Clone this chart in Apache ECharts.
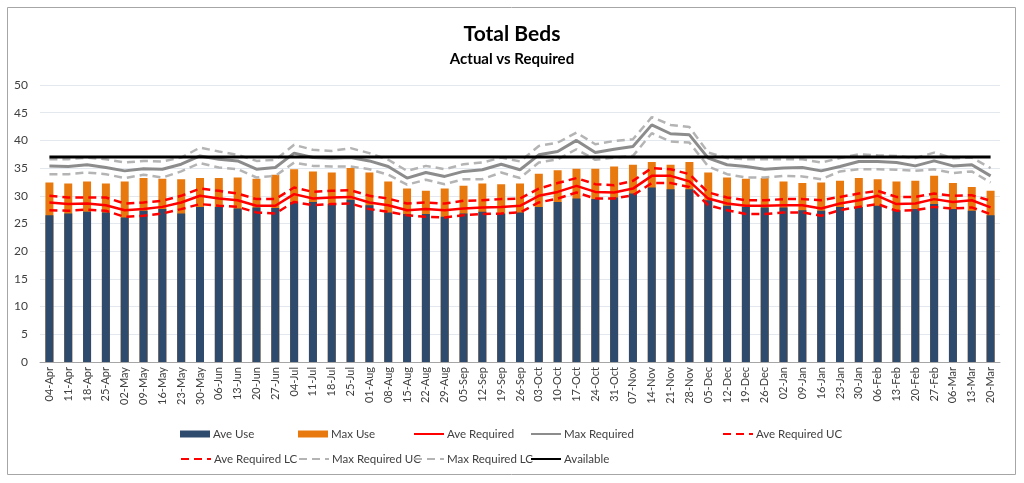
<!DOCTYPE html>
<html>
<head>
<meta charset="utf-8">
<script src="https://cdn.jsdelivr.net/npm/echarts@6/dist/echarts.min.js"></script>
<style>
html,body{margin:0;padding:0;background:#fff;}
#c{width:1024px;height:483px;}
</style>
</head>
<body>
<div id="c"></div>
<script>
var categories = ['04-Apr','11-Apr','18-Apr','25-Apr','02-May','09-May','16-May','23-May','30-May','06-Jun','13-Jun','20-Jun','27-Jun','04-Jul','11-Jul','18-Jul','25-Jul','01-Aug','08-Aug','15-Aug','22-Aug','29-Aug','05-Sep','12-Sep','19-Sep','26-Sep','03-Oct','10-Oct','17-Oct','24-Oct','31-Oct','07-Nov','14-Nov','21-Nov','28-Nov','05-Dec','12-Dec','19-Dec','26-Dec','02-Jan','09-Jan','16-Jan','23-Jan','30-Jan','06-Feb','13-Feb','20-Feb','27-Feb','06-Mar','13-Mar','20-Mar'];

var aveUse = [26.5,26.8,27.1,27.0,26.1,27.3,27.6,26.8,28.0,28.0,27.7,27.9,27.8,28.9,28.9,28.5,29.3,
  28.3,27.0,26.7,26.7,26.2,26.8,27.1,26.8,27.0,28.0,28.9,29.5,29.4,29.7,30.4,31.5,31.2,31.2,
  29.2,28.2,28.0,27.9,27.9,27.4,27.3,28.0,28.0,28.2,27.4,27.6,28.5,27.6,27.3,26.5];

var maxUse = [32.4,32.2,32.6,32.2,32.6,33.2,33.1,33.0,33.2,33.2,33.3,33.1,33.8,34.8,34.4,34.2,35.0,
  34.2,32.6,31.3,30.9,31.3,31.8,32.2,32.1,32.2,34.0,34.6,34.9,34.9,35.3,35.6,36.1,35.6,36.1,
  34.2,33.3,33.1,33.2,32.6,32.3,32.4,32.7,33.2,33.0,32.6,32.7,33.6,32.3,31.6,30.9];

var aveRequired = [28.8,28.5,28.6,28.3,27.4,27.6,28.0,28.8,30.0,29.5,29.2,28.2,28.2,30.3,29.5,29.7,29.8,
  28.8,28.3,27.4,27.6,27.4,27.7,27.9,28.0,28.2,30.0,30.7,31.8,30.7,30.6,31.3,33.6,33.6,32.6,
  29.5,28.6,28.2,28.2,28.3,28.3,27.7,28.6,29.2,30.0,28.5,28.6,29.4,28.9,29.2,27.9];

var aveRequiredUC = [30.0,29.7,29.7,29.7,28.6,28.8,29.1,30.0,31.3,30.9,30.4,29.4,29.4,31.5,30.7,30.9,31.0,
  30.0,29.5,28.6,28.8,28.6,29.1,29.2,29.4,29.5,31.3,32.3,33.2,32.1,31.9,32.7,35.0,34.8,33.9,
  30.6,29.7,29.2,29.2,29.4,29.4,29.2,29.8,30.4,30.9,29.8,29.8,30.4,30.0,30.1,29.1];

var aveRequiredLC = [27.4,27.3,27.5,27.3,26.2,26.4,26.8,27.6,28.5,28.2,28.0,27.0,26.8,28.9,28.3,28.5,28.6,
  27.6,27.1,26.5,26.2,26.1,26.5,26.7,26.8,27.0,28.8,29.5,30.6,29.5,29.5,30.1,32.3,32.3,31.6,
  28.3,27.4,26.7,26.7,27.0,27.0,26.4,27.4,28.0,28.5,27.3,27.4,28.0,27.7,27.9,26.7];

var maxRequired = [35.4,35.3,35.6,35.1,34.5,34.9,34.8,35.7,37.2,36.6,36.3,34.8,35.1,37.7,36.9,36.8,36.9,
  36.3,35.3,33.2,34.2,33.5,34.4,34.7,35.7,34.7,37.4,38.0,40.0,37.8,38.4,38.9,42.8,41.2,41.0,
  36.8,35.6,35.3,34.8,35.0,35.1,34.5,35.3,36.2,36.2,36.0,35.4,36.3,35.4,35.6,33.6];

var maxRequiredUC = [36.6,36.6,36.9,36.6,36.0,36.3,36.2,36.9,38.7,38.0,37.4,36.3,36.5,39.2,38.3,38.1,38.6,
  37.7,36.5,34.5,35.4,34.8,35.7,36.0,36.9,36.2,39.0,39.6,41.4,39.3,39.9,40.2,44.2,42.8,42.4,
  37.8,36.8,36.6,36.6,36.6,36.6,36.0,36.8,37.5,37.3,37.2,36.8,37.8,36.8,36.9,35.0];

var maxRequiredLC = [33.9,33.9,34.2,33.9,33.2,33.8,33.3,34.4,35.9,35.1,34.8,33.3,33.6,36.0,35.4,35.3,35.3,
  34.8,33.8,32.0,32.9,32.1,33.0,33.0,34.2,33.2,36.0,36.6,38.4,36.5,36.9,37.2,41.3,39.8,39.6,
  35.3,33.9,33.3,33.3,33.6,33.5,33.0,34.4,34.8,34.8,34.7,34.5,34.8,34.1,34.4,32.4];

var available = [37,37,37,37,37,37,37,37,37,37,37,37,37,37,37,37,37,
  37,37,37,37,37,37,37,37,37,37,37,37,37,37,37,37,37,37,
  37,37,37,37,37,37,37,37,37,37,37,37,37,37,37,37];

var yTicks = {min: 0, max: 50, interval: 5};

var FONT = 'Lato, "Open Sans", sans-serif';
var chart = echarts.init(document.getElementById('c'), null, {renderer: 'canvas'});

function leg(name, left, top, isBar) {
  var item = isBar ? {name: name, icon: 'rect'} :
    {name: name, itemStyle: {color: 'rgba(0,0,0,0)', borderColor: 'rgba(0,0,0,0)', borderWidth: 0, opacity: 0}};
  return {
    left: left, top: top, orient: 'horizontal',
    itemWidth: 30, itemHeight: isBar ? 7 : 14, itemGap: 0,
    data: [item],
    textStyle: {fontFamily: FONT, fontSize: 11.5, color: '#404040', padding: [0,0,0,-2]},
    selectedMode: false
  };
}

function lineS(name, data, color, width, dashed) {
  return {
    name: name, type: 'line', data: data, symbol: 'none', z: 3,
    lineStyle: {color: color, width: width, type: dashed ? [8,5] : 'solid'},
    itemStyle: {color: color},
    emphasis: {disabled: true}, animation: false
  };
}

var option = {
  animation: false,
  backgroundColor: '#ffffff',
  title: [
    {text: 'Total Beds', left: 'center', top: 19,
     textStyle: {fontFamily: FONT, fontSize: 21, fontWeight: 'bold', color: '#000'}},
    {text: 'Actual vs Required', left: 'center', top: 47,
     textStyle: {fontFamily: FONT, fontSize: 15, fontWeight: 'bold', color: '#000'}}
  ],
  graphic: [{
    type: 'rect', shape: {x: 7.5, y: 7.5, width: 1008, height: 467},
    style: {fill: 'none', stroke: '#a6a6a6', lineWidth: 1}, silent: true, z: -1
  }],
  legend: [
    leg('Ave Use', 175, 423, true),
    leg('Max Use', 293, 423, true),
    leg('Ave Required', 408, 423, false),
    leg('Max Required', 525, 423, false),
    leg('Ave Required UC', 717, 423, false),
    leg('Ave Required LC', 175, 448, false),
    leg('Max Required UC', 293, 448, false),
    leg('Max Required LC', 408, 448, false),
    leg('Available', 525, 448, false)
  ],
  grid: {left: 40, right: 24, top: 85, bottom: 121, containLabel: false},
  xAxis: {
    type: 'category', data: categories, boundaryGap: true,
    axisLine: {lineStyle: {color: '#a6a6a6', width: 1}},
    axisTick: {show: false},
    axisLabel: {rotate: 90, interval: 0, fontFamily: FONT, fontSize: 11, color: '#404040', margin: 5}
  },
  yAxis: {
    type: 'value', min: yTicks.min, max: yTicks.max, interval: yTicks.interval,
    axisLine: {show: false}, axisTick: {show: false},
    axisLabel: {fontFamily: FONT, fontSize: 12, color: '#404040', margin: 12},
    splitLine: {lineStyle: {color: '#e3e8ef', width: 1}}
  },
  series: [
    {name: 'Max Use', type: 'bar', data: maxUse, barWidth: 8, barGap: '-100%', z: 1,
     itemStyle: {color: '#e8790f'}, emphasis: {disabled: true}},
    {name: 'Ave Use', type: 'bar', data: aveUse, barWidth: 8, barGap: '-100%', z: 2,
     itemStyle: {color: '#2e4b6e'}, emphasis: {disabled: true}},
    lineS('Max Required UC', maxRequiredUC, '#b4b4b4', 2.5, true),
    lineS('Max Required LC', maxRequiredLC, '#b4b4b4', 2.5, true),
    lineS('Max Required', maxRequired, '#8c8c8c', 3, false),
    lineS('Ave Required UC', aveRequiredUC, '#ff0000', 2.5, true),
    lineS('Ave Required LC', aveRequiredLC, '#ff0000', 2.5, true),
    lineS('Ave Required', aveRequired, '#ff0000', 2.5, false),
    lineS('Available', available, '#000000', 3, false)
  ]
};
chart.setOption(option);
</script>
</body>
</html>
